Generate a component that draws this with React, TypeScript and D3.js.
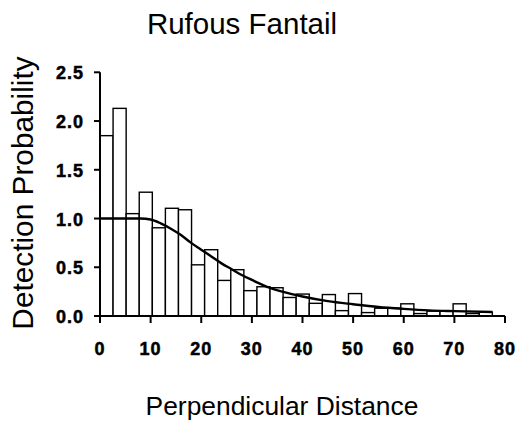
import React from 'react'
import * as d3 from 'd3'

// detection histogram: 30 distance bins out to the truncation distance
const truncation = 77.5
const binHeights = [
  1.85, 2.13, 1.05, 1.27, 0.905, 1.105, 1.09, 0.525, 0.68, 0.365,
  0.475, 0.26, 0.3, 0.29, 0.19, 0.225, 0.13, 0.22, 0.055, 0.23,
  0.035, 0.08, 0.08, 0.125, 0.025, 0.05, 0.05, 0.125, 0.025, 0.04
]

// fitted detection function
const curveX = [0, 5, 8, 10, 12, 14, 16, 18, 20, 22, 24, 26, 28, 30, 33, 36, 40, 45, 50, 55, 60, 65, 70, 77.5]
const curveY = [1.0, 1.0, 1.0, 0.99, 0.95, 0.895, 0.83, 0.75, 0.68, 0.61, 0.54, 0.48, 0.42, 0.37, 0.3, 0.25, 0.2, 0.152, 0.12, 0.092, 0.073, 0.058, 0.05, 0.041]

const xTicks = [0, 10, 20, 30, 40, 50, 60, 70, 80]
const yTicks = [0, 0.5, 1.0, 1.5, 2.0, 2.5]

const title = 'Rufous Fantail'
const xLabel = 'Perpendicular Distance'
const yLabel = 'Detection Probability'

const W = 520
const H = 423

export default function App() {
  const x = d3.scaleLinear().domain([0, 80]).range([100, 505])
  const y = d3.scaleLinear().domain([0, 2.5]).range([316, 72.3])
  const binW = truncation / binHeights.length

  const line = d3.line<number>()
    .x((_, i) => x(curveX[i]))
    .y(d => y(d))
    .curve(d3.curveMonotoneX)

  // Excel-style heavy bold ticks
  const tickFont = {
    fontFamily: 'Arial, "Liberation Sans", sans-serif',
    fontWeight: 'bold' as const,
    fontSize: 18,
    stroke: '#000',
    strokeWidth: 0.5
  }
  const labelFont = 'Arial, "Liberation Sans", sans-serif'

  return (
    <svg width={W} height={H} style={{ position: 'absolute', left: 0, top: 0, background: '#fff' }}>
      <text x={242} y={34} textAnchor="middle" fontFamily={labelFont} fontSize={29.5}>{title}</text>

      {/* bars */}
      {binHeights.map((h, i) => (
        <rect
          key={i}
          x={x(i * binW)}
          y={y(h)}
          width={x((i + 1) * binW) - x(i * binW)}
          height={y(0) - y(h)}
          fill="#fff"
          stroke="#000"
          strokeWidth={1.4}
        />
      ))}

      <path d={line(curveY) || ''} fill="none" stroke="#000" strokeWidth={2.4} />

      {/* axes */}
      <line x1={x(0)} x2={x(0)} y1={y(2.5)} y2={y(0)} stroke="#000" strokeWidth={2} />
      <line x1={x(0) - 6} x2={x(80)} y1={y(0)} y2={y(0)} stroke="#000" strokeWidth={2} />
      {yTicks.map(t => (
        <g key={'y' + t}>
          <line x1={x(0) - 6} x2={x(0)} y1={y(t)} y2={y(t)} stroke="#000" strokeWidth={2} />
          <text x={84} y={y(t) + 7} textAnchor="end" {...tickFont} letterSpacing={1}>{d3.format('.1f')(t)}</text>
        </g>
      ))}
      {xTicks.map(t => (
        <g key={'x' + t}>
          <line x1={x(t)} x2={x(t)} y1={y(0)} y2={y(0) + 7} stroke="#000" strokeWidth={2} />
          <text x={x(t)} y={355} textAnchor="middle" {...tickFont} letterSpacing={1}>{t}</text>
        </g>
      ))}

      <text x={282} y={415} textAnchor="middle" fontFamily={labelFont} fontSize={26.4}>{xLabel}</text>
      <text transform={`translate(33,193) rotate(-90)`} textAnchor="middle" fontFamily={labelFont} fontSize={29.8}>{yLabel}</text>
    </svg>
  )
}
